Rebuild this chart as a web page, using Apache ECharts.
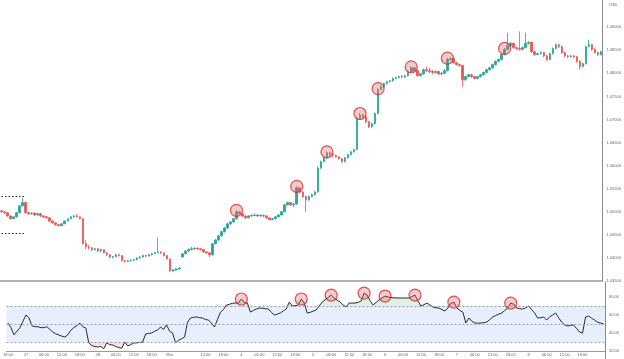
<!DOCTYPE html>
<html><head><meta charset="utf-8">
<script src="https://cdn.jsdelivr.net/npm/echarts@6/dist/echarts.min.js"></script>
<style>html,body{margin:0;padding:0;background:#fff}#c{width:624px;height:359px}</style>
</head><body><div id="c"></div>
<script>
// Hourly candles, first candle = day "26" 18:00
const dayLabels = ["26","27","28","Mar","4","5","6","7","8","9"];
const startHour = 18;
const skippedTicks = ["Mar 06:00"];

const open = [1.0502,1.0500,1.0498,1.0491,1.0485,1.0489,1.0498,1.0513,1.0520,1.0498,
1.0496,1.0497,1.0493,1.0496,1.0491,1.0489,1.0487,1.0480,1.0476,1.0472,
1.0470,1.0474,1.0480,1.0485,1.0489,1.0491,1.0489,1.0485,1.0431,1.0424,
1.0422,1.0418,1.0420,1.0415,1.0418,1.0411,1.0407,1.0402,1.0403,1.0407,
1.0405,1.0394,1.0392,1.0394,1.0395,1.0396,1.0400,1.0402,1.0405,1.0404,
1.0407,1.0409,1.0411,1.0413,1.0411,1.0405,1.0398,1.0372,1.0374,1.0376,
1.0402,1.0409,1.0415,1.0418,1.0420,1.0421,1.0420,1.0418,1.0413,1.0411,
1.0407,1.0431,1.0439,1.0448,1.0457,1.0465,1.0474,1.0478,1.0485,1.0500,
1.0496,1.0491,1.0487,1.0491,1.0492,1.0493,1.0491,1.0492,1.0491,1.0487,
1.0483,1.0485,1.0489,1.0493,1.0500,1.0515,1.0520,1.0515,1.0517,1.0552,
1.0543,1.0533,1.0526,1.0533,1.0537,1.0543,1.0595,1.0609,1.0617,1.0628,
1.0624,1.0622,1.0619,1.0615,1.0609,1.0617,1.0624,1.0630,1.0635,1.0702,
1.0710,1.0706,1.0695,1.0684,1.0691,1.0713,1.0765,1.0771,1.0778,1.0782,
1.0784,1.0789,1.0791,1.0793,1.0792,1.0795,1.0804,1.0812,1.0806,1.0795,
1.0799,1.0808,1.0806,1.0804,1.0802,1.0804,1.0799,1.0800,1.0806,1.0830,
1.0832,1.0823,1.0819,1.0817,1.0786,1.0793,1.0797,1.0793,1.0789,1.0793,
1.0797,1.0802,1.0808,1.0812,1.0819,1.0826,1.0830,1.0841,1.0852,1.0860,
1.0865,1.0856,1.0854,1.0852,1.0856,1.0865,1.0867,1.0847,1.0841,1.0843,
1.0845,1.0838,1.0830,1.0843,1.0854,1.0862,1.0858,1.0845,1.0838,1.0836,
1.0838,1.0836,1.0826,1.0815,1.0821,1.0858,1.0862,1.0852,1.0845,1.0841];

const close = [1.0500,1.0498,1.0491,1.0485,1.0489,1.0498,1.0513,1.0520,1.0498,1.0496,
1.0497,1.0493,1.0496,1.0491,1.0489,1.0487,1.0480,1.0476,1.0472,1.0470,
1.0474,1.0480,1.0485,1.0489,1.0491,1.0489,1.0485,1.0431,1.0424,1.0422,
1.0418,1.0420,1.0415,1.0418,1.0411,1.0407,1.0402,1.0403,1.0407,1.0405,
1.0394,1.0392,1.0394,1.0395,1.0396,1.0400,1.0402,1.0405,1.0404,1.0407,
1.0409,1.0411,1.0413,1.0411,1.0405,1.0398,1.0372,1.0374,1.0376,1.0378,
1.0409,1.0415,1.0418,1.0420,1.0421,1.0420,1.0418,1.0413,1.0411,1.0407,
1.0431,1.0439,1.0448,1.0457,1.0465,1.0474,1.0478,1.0485,1.0500,1.0496,
1.0491,1.0487,1.0491,1.0492,1.0493,1.0491,1.0492,1.0491,1.0487,1.0483,
1.0485,1.0489,1.0493,1.0500,1.0515,1.0520,1.0515,1.0517,1.0552,1.0543,
1.0533,1.0526,1.0533,1.0537,1.0543,1.0595,1.0609,1.0617,1.0628,1.0624,
1.0622,1.0619,1.0615,1.0609,1.0617,1.0624,1.0630,1.0635,1.0702,1.0710,
1.0706,1.0695,1.0684,1.0691,1.0713,1.0765,1.0771,1.0778,1.0782,1.0784,
1.0789,1.0791,1.0793,1.0792,1.0795,1.0804,1.0812,1.0806,1.0795,1.0799,
1.0808,1.0806,1.0804,1.0802,1.0804,1.0799,1.0800,1.0806,1.0830,1.0832,
1.0823,1.0819,1.0817,1.0786,1.0793,1.0797,1.0793,1.0789,1.0793,1.0797,
1.0802,1.0808,1.0812,1.0819,1.0826,1.0830,1.0841,1.0852,1.0860,1.0865,
1.0856,1.0854,1.0852,1.0856,1.0865,1.0867,1.0847,1.0841,1.0843,1.0845,
1.0838,1.0830,1.0843,1.0854,1.0862,1.0858,1.0845,1.0838,1.0836,1.0838,
1.0836,1.0826,1.0815,1.0821,1.0858,1.0862,1.0852,1.0845,1.0841,1.0847];

const low = [1.0497,1.0495,1.0489,1.0483,1.0484,1.0487,1.0496,1.0511,1.0496,1.0493,
1.0494,1.0491,1.0492,1.0489,1.0487,1.0485,1.0478,1.0474,1.0470,1.0468,
1.0469,1.0473,1.0479,1.0484,1.0487,1.0487,1.0483,1.0429,1.0419,1.0418,
1.0415,1.0416,1.0413,1.0412,1.0409,1.0404,1.0400,1.0399,1.0401,1.0403,
1.0392,1.0390,1.0391,1.0392,1.0393,1.0395,1.0398,1.0401,1.0402,1.0403,
1.0405,1.0408,1.0410,1.0409,1.0403,1.0396,1.0369,1.0370,1.0373,1.0375,
1.0400,1.0408,1.0413,1.0416,1.0418,1.0417,1.0416,1.0411,1.0409,1.0402,
1.0405,1.0429,1.0437,1.0446,1.0455,1.0463,1.0471,1.0476,1.0483,1.0494,
1.0489,1.0484,1.0486,1.0489,1.0490,1.0489,1.0489,1.0488,1.0485,1.0481,
1.0482,1.0484,1.0488,1.0492,1.0499,1.0513,1.0513,1.0510,1.0515,1.0540,
1.0530,1.0500,1.0524,1.0531,1.0535,1.0541,1.0593,1.0607,1.0615,1.0621,
1.0619,1.0617,1.0613,1.0606,1.0607,1.0615,1.0622,1.0628,1.0633,1.0700,
1.0703,1.0692,1.0681,1.0682,1.0689,1.0711,1.0763,1.0769,1.0776,1.0780,
1.0782,1.0787,1.0789,1.0790,1.0790,1.0793,1.0802,1.0803,1.0793,1.0793,
1.0797,1.0803,1.0800,1.0798,1.0799,1.0796,1.0795,1.0798,1.0804,1.0827,
1.0821,1.0817,1.0814,1.0771,1.0784,1.0791,1.0790,1.0787,1.0787,1.0791,
1.0795,1.0800,1.0806,1.0810,1.0817,1.0824,1.0828,1.0839,1.0850,1.0857,
1.0853,1.0851,1.0849,1.0850,1.0854,1.0862,1.0844,1.0838,1.0839,1.0841,
1.0835,1.0827,1.0828,1.0841,1.0852,1.0855,1.0842,1.0835,1.0833,1.0834,
1.0833,1.0823,1.0808,1.0813,1.0819,1.0856,1.0849,1.0843,1.0838,1.0839];

const high = [1.0504,1.0501,1.0500,1.0492,1.0490,1.0500,1.0515,1.0530,1.0522,1.0500,
1.0499,1.0499,1.0498,1.0497,1.0493,1.0491,1.0488,1.0481,1.0477,1.0474,
1.0475,1.0481,1.0486,1.0491,1.0493,1.0495,1.0490,1.0486,1.0439,1.0428,
1.0424,1.0422,1.0421,1.0420,1.0419,1.0412,1.0408,1.0404,1.0409,1.0409,
1.0406,1.0396,1.0396,1.0397,1.0398,1.0401,1.0404,1.0407,1.0407,1.0409,
1.0411,1.0413,1.0444,1.0415,1.0412,1.0406,1.0399,1.0376,1.0378,1.0380,
1.0410,1.0417,1.0421,1.0424,1.0423,1.0423,1.0422,1.0419,1.0414,1.0412,
1.0432,1.0441,1.0450,1.0459,1.0467,1.0476,1.0480,1.0487,1.0504,1.0502,
1.0497,1.0492,1.0493,1.0494,1.0496,1.0495,1.0495,1.0494,1.0492,1.0488,
1.0487,1.0491,1.0495,1.0502,1.0517,1.0522,1.0521,1.0519,1.0556,1.0554,
1.0545,1.0535,1.0535,1.0539,1.0545,1.0598,1.0611,1.0619,1.0631,1.0630,
1.0626,1.0624,1.0621,1.0616,1.0619,1.0626,1.0632,1.0637,1.0705,1.0714,
1.0712,1.0708,1.0697,1.0693,1.0715,1.0768,1.0774,1.0780,1.0784,1.0786,
1.0791,1.0793,1.0795,1.0796,1.0797,1.0806,1.0815,1.0814,1.0808,1.0801,
1.0810,1.0815,1.0812,1.0807,1.0806,1.0806,1.0803,1.0809,1.0834,1.0835,
1.0834,1.0825,1.0821,1.0819,1.0795,1.0799,1.0799,1.0795,1.0795,1.0799,
1.0804,1.0810,1.0814,1.0821,1.0828,1.0832,1.0843,1.0855,1.0888,1.0868,
1.0867,1.0858,1.0891,1.0858,1.0888,1.0870,1.0869,1.0849,1.0845,1.0848,
1.0847,1.0840,1.0845,1.0856,1.0865,1.0864,1.0860,1.0847,1.0840,1.0840,
1.0840,1.0838,1.0828,1.0823,1.0860,1.0873,1.0864,1.0854,1.0847,1.0849];

const rsi = [51,46,38,42,46,53,60,57,48,47,
47,46,46,47,44,41,39,37.8,36.5,35.6,
38,43,46,48,51,47,45.6,29,26,25,
24.4,25,22.5,29,27,26.7,25,24,23,30,
25.6,27,29,29,29.5,30,38.9,39.5,40,42,
43.3,46.7,44,49,42,40,29,32,33.5,35.6,
52,56.7,57.5,57.8,57,56.7,55,54.4,51,46.7,
55,63,66,71.1,72,73,73.3,73.3,77.8,74,
73.3,63.3,65,66.7,67.8,67.5,67,66.7,63,60,
61,62.2,64.5,66.7,74.4,70,70.5,71.1,77.8,73.3,
62.2,63,64.4,65.6,70,74.4,77,79.5,82.2,78.9,
76.5,74.4,71,68.9,73.3,73.3,73.3,74,75.6,84.4,
82.2,76,71.1,74,76.7,79,81.1,80,79.5,79,
79,78.9,78.9,78.9,78.9,80.5,82.2,75.6,70,71.5,
73.3,71,68.9,68,67.8,66,64.4,67.8,73,74.4,
67.8,65,63.3,51.1,56.7,53,51.1,51,51.1,51.5,
52.2,55,57.8,59.5,61,62.2,65,67.8,73.3,72,
67.8,67,66.7,68,70,66,62.2,56.7,57,57.8,
54.4,58,60,62.2,57,52.2,49,47.8,48.5,48.9,
45,41.1,40,57.8,58.9,56.5,54.4,52,51.1,50];

const priceCircleIdx = [78, 98, 108, 119, 125, 136, 148, 167];
const rsiCircleIdx = [78, 98, 108, 119, 126, 136, 149, 168];
const levelPrices = [1.0533, 1.0454];
const levelSpan = [0, 8];
const rsiLevels = [30, 50, 70];
const rsiUpper = 70, rsiLower = 30;

// ---- build ----
const categories = [];
for (let i = 0; i < close.length; i++) {
  const t = startHour + i;
  const h = t % 24, d = Math.floor(t / 24);
  categories.push(dayLabels[d] + ' ' + String(h).padStart(2, '0') + ':00');
}
const candles = close.map((c, i) => [open[i], c, low[i], high[i]]);
const priceCircles = priceCircleIdx.map(i => [i, high[i] - 0.0001]);
const rsiCircles = rsiCircleIdx.map(i => [i, rsi[i]]);
const obBase = rsi.map(() => rsiUpper);
const obFill = rsi.map(v => Math.max(v - rsiUpper, 0));
const osBase = rsi.map(v => Math.min(v, rsiLower));
const osFill = rsi.map(v => rsiLower - Math.min(v, rsiLower));

const FONT = 'Liberation Sans';
const tickShow = (idx) => {
  const name = categories[idx];
  const h = parseInt(name.split(' ')[1], 10);
  return h % 6 === 0 && skippedTicks.indexOf(name) < 0 && idx < close.length - 2;
};
const tickFmt = (name) => {
  const parts = name.split(' ');
  return parts[1] === '00:00' ? parts[0] : parts[1];
};

const chart = echarts.init(document.getElementById('c'), null, {renderer: 'canvas'});
chart.setOption({
  animation: false,
  backgroundColor: '#ffffff',
  grid: [
    {left: 0, right: 19, top: 0, height: 281},
    {left: 0, right: 19, top: 282, height: 69}
  ],
  xAxis: [
    {type: 'category', gridIndex: 0, data: categories, boundaryGap: true,
     axisLine: {show: true, lineStyle: {color: '#9a9a9a', width: 1.5}},
     axisTick: {show: false}, axisLabel: {show: false}, splitLine: {show: false}},
    {type: 'category', gridIndex: 1, data: categories, boundaryGap: true,
     axisLine: {show: true, lineStyle: {color: '#9a9a9a', width: 1}},
     axisTick: {show: false}, splitLine: {show: false},
     axisLabel: {show: true, interval: (idx) => tickShow(idx), formatter: tickFmt,
       fontSize: 4, color: '#666', fontFamily: FONT, margin: 2, hideOverlap: false}}
  ],
  yAxis: [
    {type: 'value', gridIndex: 0, position: 'right', min: 1.035, max: 1.0959, interval: 0.005,
     axisLine: {show: true, lineStyle: {color: '#888', width: 1}},
     axisTick: {show: false}, splitLine: {show: false},
     axisLabel: {showMaxLabel: false, fontSize: 4, color: '#666', fontFamily: FONT, margin: 4,
       formatter: v => v > 1.0925 ? '' : v.toFixed(5)}},
    {type: 'value', gridIndex: 1, position: 'right', min: 20, max: 96.7, interval: 20,
     axisLine: {show: true, lineStyle: {color: '#888', width: 1}},
     axisTick: {show: false}, splitLine: {show: false},
     axisLabel: {showMaxLabel: false, fontSize: 4, color: '#666', fontFamily: FONT, margin: 4,
       formatter: v => v.toFixed(2)}}
  ],
  graphic: [
    {type: 'text', left: 609, top: 3, style: {text: 'USD', fontSize: 4, fill: '#666', fontFamily: FONT}},
    {type: 'line', shape: {x1: 605.5, y1: 351, x2: 605.5, y2: 359}, style: {stroke: '#888', lineWidth: 1}}
  ],
  series: [
    {type: 'candlestick', xAxisIndex: 0, yAxisIndex: 0, data: candles, barWidth: '68%',
     itemStyle: {color: '#26a69a', color0: '#ef5350', borderColor: '#26a69a', borderColor0: '#ef5350', borderWidth: 0.8},
     markLine: {silent: true, symbol: 'none', label: {show: false},
       lineStyle: {color: '#222', type: [1.5, 2], width: 1},
       data: levelPrices.map(p => [{coord: [levelSpan[0], p]}, {coord: [levelSpan[1], p]}])}},
    {type: 'scatter', xAxisIndex: 0, yAxisIndex: 0, data: priceCircles, symbolSize: 12, z: 5,
     itemStyle: {color: 'rgba(232,100,105,0.42)', borderColor: '#d12e35', borderWidth: 1.2}},
    // RSI band and fills
    {type: 'line', xAxisIndex: 1, yAxisIndex: 1, data: obBase, stack: 'ob', symbol: 'none',
     lineStyle: {width: 0, opacity: 0}, z: 1,
     markArea: {silent: true, itemStyle: {color: '#e7eefc'}, data: [[{yAxis: rsiLower}, {yAxis: rsiUpper}]]},
     markLine: {silent: true, symbol: 'none', label: {show: false},
       lineStyle: {color: '#9aa0aa', type: [2, 2], width: 1},
       data: rsiLevels.map(v => ({yAxis: v}))}},
    {type: 'line', xAxisIndex: 1, yAxisIndex: 1, data: obFill, stack: 'ob', symbol: 'none',
     lineStyle: {width: 0, opacity: 0}, areaStyle: {color: 'rgba(110,200,140,0.35)'}, z: 2},
    {type: 'line', xAxisIndex: 1, yAxisIndex: 1, data: osBase, stack: 'os', symbol: 'none',
     lineStyle: {width: 0, opacity: 0}, z: 1},
    {type: 'line', xAxisIndex: 1, yAxisIndex: 1, data: osFill, stack: 'os', symbol: 'none',
     lineStyle: {width: 0, opacity: 0}, areaStyle: {color: 'rgba(240,150,165,0.4)'}, z: 2},
    {type: 'line', xAxisIndex: 1, yAxisIndex: 1, data: rsi, symbol: 'none', z: 3,
     lineStyle: {color: '#2b2b2b', width: 1}},
    {type: 'scatter', xAxisIndex: 1, yAxisIndex: 1, data: rsiCircles, symbolSize: 12, z: 5,
     itemStyle: {color: 'rgba(232,100,105,0.42)', borderColor: '#d12e35', borderWidth: 1.2}}
  ]
});
</script>
</body></html>
